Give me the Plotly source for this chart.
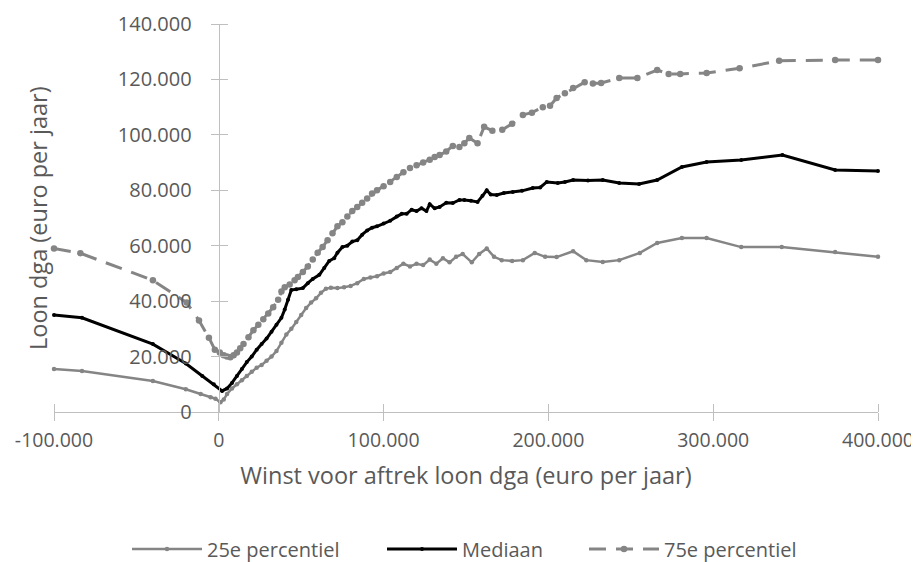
import plotly.graph_objects as go

# ---- data ----
x_p25 = [-100000, -83000, -40000, -20000, -11000, -5000, -2000, 1000, 3000, 5000, 8000, 11000,
         14000, 17000, 20000, 23000, 26000, 29000, 32000, 35000, 38000, 41000, 44000, 47000,
         50000, 53000, 56000, 59000, 62000, 65000, 68000, 72000, 76000, 80000, 84000, 88000,
         92000, 96000, 100000, 104000, 108000, 112000, 116000, 120000, 124000, 128000, 132000,
         136000, 140000, 144000, 148000, 153500, 158000, 162600, 167000, 171700, 178000, 184500,
         191700, 198000, 205000, 215000, 223000, 233000, 243000, 255500, 266000, 281000, 296000,
         317000, 341600, 374000, 400000]
y_p25 = [15500, 14800, 11200, 8200, 6500, 5300, 4800, 3500, 4500, 6500, 8500, 10000,
         11500, 13000, 14500, 16000, 17000, 18500, 20000, 22000, 25000, 28000, 30000, 32500,
         35000, 37500, 39500, 41000, 43000, 44500, 44800, 44700, 45000, 45500, 46500, 48000,
         48500, 49000, 50000, 50500, 52000, 53500, 52500, 53500, 53000, 55000, 53500,
         55500, 54000, 56000, 57000, 54000, 57000, 59000, 56000, 54800, 54500, 54800,
         57400, 56000, 55900, 58000, 54800, 54100, 54800, 57400, 61000, 62800, 62800,
         59500, 59500, 57700, 56000]

x_med = [-100000, -83000, -40000, -20000, -10000, -3000, 2000, 5000, 8000, 11000, 14000, 17000,
         20000, 23000, 26000, 29000, 32000, 35000, 38000, 40000, 42000, 44000, 47000, 51000,
         54000, 57000, 61000, 64000, 67000, 70000, 72000, 75000, 78000, 81000, 84000, 87000,
         90000, 93000, 96000, 100000, 104000, 108000, 111000, 114000, 117000, 120000, 123000,
         126000, 128000, 131000, 134000, 138000, 142000, 146000, 149000, 153000, 157000, 160000,
         162600, 165000, 168700, 173000, 178400, 184000, 190500, 195000, 199000, 205700, 210000,
         215000, 224000, 233000, 243000, 255000, 266000, 281000, 296000, 317000, 342000, 374000,
         400000]
y_med = [35000, 34000, 24500, 17500, 13000, 10000, 7600, 8500, 10500, 13000, 15500, 18000,
         20000, 22500, 24500, 26500, 29000, 31500, 34000, 37000, 40500, 44000, 44300, 44700,
         46500, 48000, 49500, 52000, 54500, 55500, 57500, 59500, 60000, 61500, 62000, 64000,
         65500, 66500, 67000, 68000, 69000, 70500, 71500, 71500, 73000, 72500, 73500,
         72500, 75000, 73500, 74000, 75500, 75400, 76500, 76500, 76200, 75800, 78000,
         80000, 78500, 78300, 79000, 79400, 79800, 80800, 81000, 83000, 82600, 83000,
         83700, 83500, 83700, 82600, 82300, 83700, 88400, 90200, 90900, 92700, 87300,
         87000]

x_p75 = [-100000, -84000, -40000, -19500, -12000, -6000, -2400, 600, 3000, 5000, 7000, 9000,
         11000, 13000, 15000, 18000, 21000, 24000, 27000, 30000, 33000, 36000, 38000, 40000,
         43000, 46000, 48000, 51000, 54000, 57000, 60000, 63000, 66000, 69000, 72000, 75000,
         78000, 81000, 84000, 87000, 90000, 93000, 96000, 100000, 104000, 108000, 112000,
         116000, 120000, 124000, 128000, 131000, 134000, 138000, 142000, 146000, 149000,
         152000, 157000, 161000, 166000, 172000, 178000, 184500, 190000, 196600, 201000,
         205000, 210000, 215000, 222000, 227000, 232000, 243000, 254000, 266000, 273000,
         280000, 296000, 316000, 340000, 374000, 400000]
y_p75 = [59000, 57300, 47500, 39500, 33000, 26800, 22500, 21500, 20500, 20000, 19800, 20500,
         21500, 23000, 24500, 27000, 29500, 31500, 33500, 35500, 37800, 40500, 43500, 45000,
         46000, 47500, 48700, 50500, 52500, 55000, 57500, 59500, 62000, 64500, 67000, 68500,
         70500, 72500, 74000, 75500, 77000, 78800, 80000, 81500, 83000, 84800, 86500,
         88000, 89000, 90000, 91000, 92000, 92700, 94000, 96000, 95600, 97000,
         98900, 97000, 102900, 101500, 101800, 104000, 107200, 108000, 110000, 110500,
         113300, 115000, 116900, 119000, 118500, 118700, 120500, 120500, 123400, 122000,
         122000, 122300, 124000, 126700, 127000, 127000]

series_names = ["25e percentiel", "Mediaan", "75e percentiel"]

x_tick_vals = [-100000, 0, 100000, 200000, 300000, 400000]
x_tick_labels = ["-100.000", "0", "100.000", "200.000", "300.000", "400.000"]
y_tick_vals = [0, 20000, 40000, 60000, 80000, 100000, 120000, 140000]
y_tick_labels = ["0", "20.000", "40.000", "60.000", "80.000", "100.000", "120.000", "140.000"]

x_title = "Winst voor aftrek loon dga (euro per jaar)"
y_title = "Loon dga (euro per jaar)"

# ---- styling ----
GRAY = "#858585"
AXIS = "#bfbfbf"
TXT = "#595959"
FONT = "Open Sans"
X_MIN, X_MAX = -100000, 400000
# page has an 8px body margin; figure sized to fit the 919x562 window
FIG_W, FIG_H = 911, 554
PLOT_W, PLOT_H = 824, 388
PLOT_LEFT, PLOT_BOTTOM = 54, 412  # window pixels

fig = go.Figure()
fig.add_trace(go.Scatter(x=x_p25, y=y_p25, name=series_names[0], mode="lines+markers",
                         line=dict(color=GRAY, width=2.5), marker=dict(size=4.5, color=GRAY),
                         cliponaxis=False, legend="legend"))
fig.add_trace(go.Scatter(x=x_med, y=y_med, name=series_names[1], mode="lines+markers",
                         line=dict(color="#000000", width=3), marker=dict(size=4, color="#000000"),
                         cliponaxis=False, legend="legend2"))
fig.add_trace(go.Scatter(x=x_p75, y=y_p75, name=series_names[2], mode="lines+markers",
                         line=dict(color=GRAY, width=3, dash="17px,10px"),
                         marker=dict(size=6.5, color=GRAY), cliponaxis=False, legend="legend3"))

y_axis_pos = (0 - X_MIN) / (X_MAX - X_MIN)


def legend_at(px_left, px_mid=549):
    return dict(orientation="h", x=(px_left - PLOT_LEFT) / PLOT_W, xanchor="left",
                y=(PLOT_BOTTOM - px_mid) / PLOT_H, yanchor="middle",
                font=dict(size=20, color=TXT), itemwidth=70, bgcolor="rgba(0,0,0,0)",
                borderwidth=0, tracegroupgap=0)


fig.update_layout(
    width=FIG_W, height=FIG_H,
    margin=dict(l=46, r=41, t=16, b=150, autoexpand=False),
    paper_bgcolor="white", plot_bgcolor="white",
    font=dict(family=FONT, size=20, color=TXT),
    showlegend=True,
    legend=legend_at(127),
    legend2=legend_at(382),
    legend3=legend_at(584),
    xaxis=dict(range=[X_MIN, X_MAX], domain=[0, 1], showgrid=False, zeroline=False,
               automargin=False,
               showline=True, linecolor=AXIS, linewidth=1.3,
               tickvals=x_tick_vals, ticktext=x_tick_labels,
               ticks="outside", ticklen=8, tickcolor=AXIS, tickwidth=1.3,
               minor=dict(tickvals=[v + 1 for v in x_tick_vals], ticks="inside", ticklen=8,
                          tickcolor=AXIS, tickwidth=1.3),
               tickfont=dict(size=19.5, color=TXT), ticklabelstandoff=2,
               title=dict(text=x_title, font=dict(size=23.5, color=TXT), standoff=16)),
    yaxis=dict(range=[0, 140000], showgrid=False, zeroline=False, automargin=False,
               anchor="free", position=y_axis_pos,
               showline=True, linecolor=AXIS, linewidth=1.3,
               tickvals=y_tick_vals, ticktext=y_tick_labels,
               ticks="outside", ticklen=8, tickcolor=AXIS, tickwidth=1.3,
               minor=dict(tickvals=[v + 1 for v in y_tick_vals], ticks="inside", ticklen=8,
                          tickcolor=AXIS, tickwidth=1.3),
               tickfont=dict(size=20, color=TXT), ticklabelstandoff=15),
    annotations=[dict(text=y_title, xref="paper", yref="paper",
                      x=(38 - PLOT_LEFT) / PLOT_W, y=0.5,
                      xanchor="center", yanchor="middle", textangle=-90, showarrow=False,
                      font=dict(size=23.5, color=TXT))],
)

fig.write_html("out.html")
